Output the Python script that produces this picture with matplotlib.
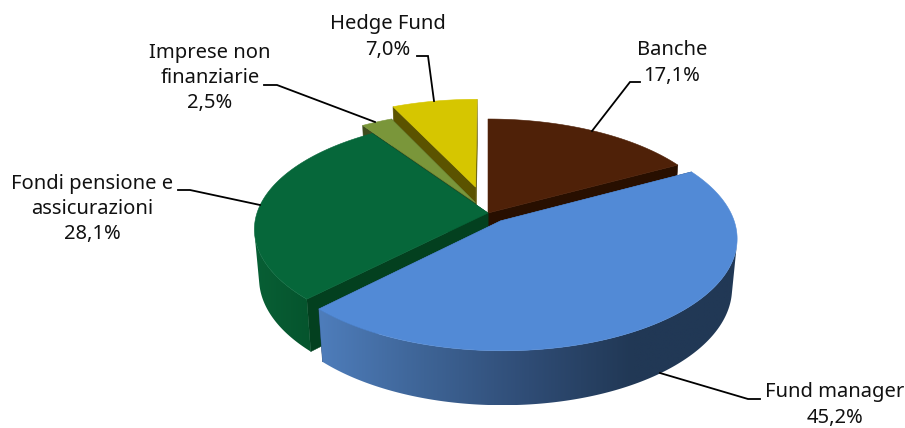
import numpy as np
import matplotlib
matplotlib.use("Agg")
import matplotlib.pyplot as plt
from matplotlib.colors import LinearSegmentedColormap
from matplotlib.patches import Polygon

plt.rcParams['font.family'] = ['Noto Sans', 'DejaVu Sans']

# Quote per tipologia di investitore
categorie = ["Banche", "Fund manager", "Fondi pensione e\nassicurazioni",
             "Imprese non\nfinanziarie", "Hedge Fund"]
valori = [17.1, 45.2, 28.1, 2.5, 7.0]

# Stile delle fette
esplosione = [0.0, 0.09, 0.0, 0.11, 0.255]
col_top = ["#4F2108", "#528AD6", "#06673A", "#7A963A", "#D6C600"]
col_taglio = ["#280F00", "#2A4A75", "#03401F", "#3E4D1E", "#5B5300"]
col_bordo = [["#280F00"], ["#4E7DBB", "#3E6496", "#2F4C75", "#213855", "#213855"],
             ["#085F35", "#05542D"], ["#3E4D1E"], ["#5B5300"]]
ordine = [4, 3, 0, 2, 1]

# Posizione delle etichette e linee di richiamo
pos_testo = [(672, 63), (835, 405), (92, 209), (210, 78), (388, 37)]
richiami = [[(640, 82), (630, 82), (592, 131)],
            [(760, 399), (748, 399), (660, 373)],
            [(178, 190), (190, 190), (260, 205)],
            [(264, 85), (277, 85), (375, 122)],
            [(417, 56), (428, 56), (434, 101)]]

# Proiezione prospettica del disco
CX, CY = 488, 213
SX, SY = 231, 108
PERSP, PERSP_Z, ALTEZZA = 0.149, 0.02, 49.6


def proietta(x, y, z=0.0):
    w = 1 + PERSP * y + PERSP_Z * z
    return np.column_stack((CX + SX * x / w, CY - (SY * y - ALTEZZA * z) / w))


def parete_frontale(alto, basso):
    # tiene solo i tratti della parete rivolti verso chi guarda
    tratti = []
    for j in range(len(alto) - 1):
        q = np.array([alto[j], alto[j + 1], basso[j + 1], basso[j]])
        area = np.sum(q[:, 0] * np.roll(q[:, 1], -1) - np.roll(q[:, 0], -1) * q[:, 1])
        if area < 0:
            tratti.append(j)
    if not tratti:
        return None
    da, a = tratti[0], tratti[-1] + 2
    return np.vstack((alto[da:a], basso[da:a][::-1]))


fig = plt.figure(figsize=(9.05, 4.28), dpi=100)
ax = fig.add_axes([0, 0, 1, 1])

angoli = np.cumsum([0] + valori) / sum(valori) * 2 * np.pi

for i in ordine:
    a0, a1 = angoli[i], angoli[i + 1]
    media = (a0 + a1) / 2
    ox, oy = esplosione[i] * np.sin(media), esplosione[i] * np.cos(media)
    t = np.linspace(a0, a1, 300)
    xs, ys = ox + np.sin(t), oy + np.cos(t)
    centro_alto = proietta(np.array([ox]), np.array([oy]))
    centro_basso = proietta(np.array([ox]), np.array([oy]), 1.0)
    arco_alto = proietta(xs, ys)
    arco_basso = proietta(xs, ys, 1.0)

    # facce di taglio
    for k in (0, -1):
        quad = np.vstack((centro_alto, arco_alto[k], arco_basso[k], centro_basso))
        ax.add_patch(Polygon(quad, fc=col_taglio[i], ec=col_taglio[i], lw=0.4))

    # parete esterna
    parete = parete_frontale(arco_alto, arco_basso)
    stop = col_bordo[i]
    if parete is not None:
        if len(stop) == 1:
            ax.add_patch(Polygon(parete, fc=stop[0], ec=stop[0], lw=0.4))
        else:
            bordo = Polygon(parete, fc="none", ec="none")
            ax.add_patch(bordo)
            x0, x1 = parete[:, 0].min(), parete[:, 0].max()
            y0, y1 = parete[:, 1].min(), parete[:, 1].max()
            cmap = LinearSegmentedColormap.from_list("parete", stop)
            img = ax.imshow(np.linspace(0, 1, 256)[None, :], cmap=cmap, aspect="auto",
                            extent=(x0, x1, y1, y0), interpolation="bilinear",
                            zorder=1 + ordine.index(i))
            img.set_clip_path(bordo)

    # faccia superiore
    ax.add_patch(Polygon(np.vstack((centro_alto, arco_alto)), fc=col_top[i],
                         ec=col_top[i], lw=0.4, zorder=2 + ordine.index(i)))

for nome, val, (tx, ty), linea in zip(categorie, valori, pos_testo, richiami):
    etichetta = f"{nome}\n{val:.1f}%".replace(".", ",")
    ax.text(tx, ty, etichetta, ha="center", va="center", fontsize=14.5,
            linespacing=1.36, color="#111111", zorder=20)
    lx, ly = zip(*linea)
    ax.plot(lx, ly, color="black", lw=1.3, solid_joinstyle="miter", zorder=19)

ax.set_xlim(0, 905)
ax.set_ylim(428, 0)
ax.axis("off")
fig.savefig("out.png", dpi=100)
